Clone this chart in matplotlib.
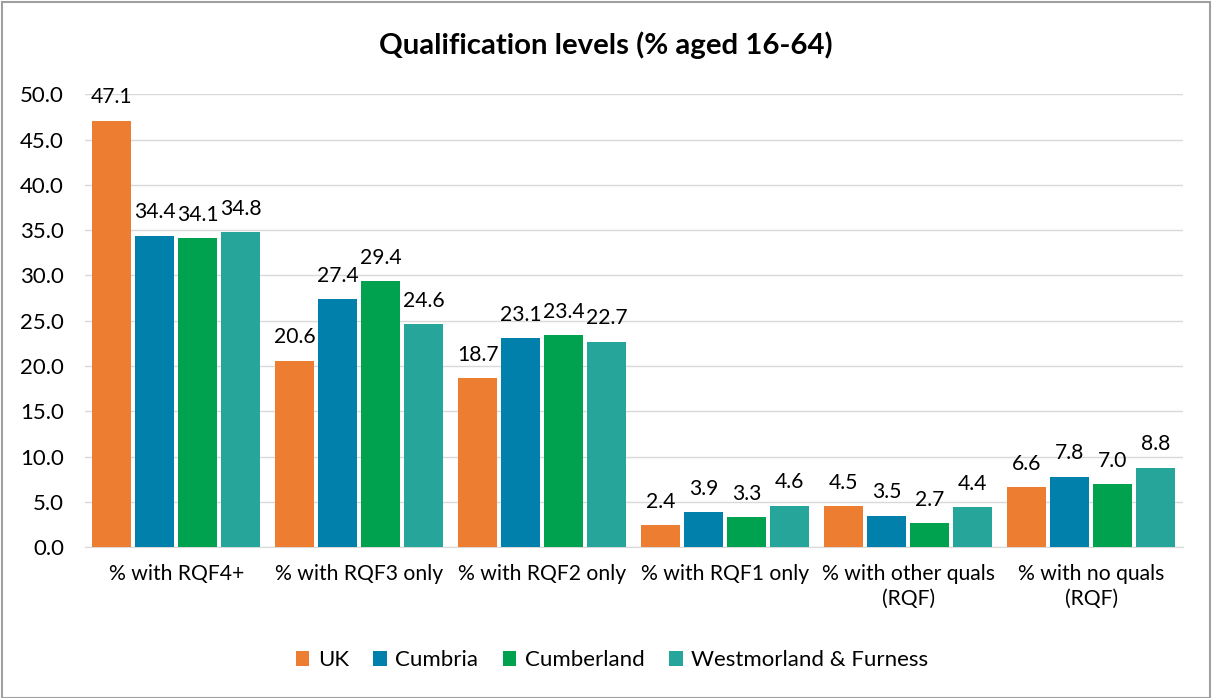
import numpy as np
import matplotlib.pyplot as plt
from matplotlib.patches import Rectangle

plt.rcParams['font.family'] = ['Lato', 'DejaVu Sans']

categories = ['% with RQF4+', '% with RQF3 only', '% with RQF2 only',
              '% with RQF1 only', '% with other quals\n(RQF)', '% with no quals\n(RQF)']
series = ['UK', 'Cumbria', 'Cumberland', 'Westmorland & Furness']
uk = [47.1, 20.6, 18.7, 2.4, 4.5, 6.6]
cumbria = [34.4, 27.4, 23.1, 3.9, 3.5, 7.8]
cumberland = [34.1, 29.4, 23.4, 3.3, 2.7, 7.0]
westmorland = [34.8, 24.6, 22.7, 4.6, 4.4, 8.8]
colors = ['#ED7D31', '#0080AB', '#00A14F', '#26A69A']

fig = plt.figure(figsize=(12.12, 6.98), dpi=100)
ax = fig.add_axes([0.070, 0.216, 0.906, 0.649])

x = np.arange(len(categories))
w = 0.213
step = 0.235
for i, (name, vals) in enumerate(zip(series, [uk, cumbria, cumberland, westmorland])):
    pos = x + (i - 1.5) * step
    bars = ax.bar(pos, vals, width=w, color=colors[i], label=name, zorder=3)
    for b, v in zip(bars, vals):
        ax.annotate(f'{v:.1f}', (b.get_x() + b.get_width() / 2, v),
                    xytext=(0, 9.5), textcoords='offset points',
                    ha='center', va='bottom', fontsize=15.2, color='#000000')

ax.set_ylim(0, 50)
ax.set_xlim(-0.5, len(categories) - 0.5)
ax.set_yticks(np.arange(0, 51, 5))
ax.set_yticklabels([f'{t:.1f}' for t in np.arange(0, 51, 5)], fontsize=16)
ax.set_xticks(x)
ax.set_xticklabels(categories, fontsize=15.2, linespacing=1.3)
ax.tick_params(axis='y', length=0, pad=15)
ax.tick_params(axis='x', length=0, pad=12)
ax.yaxis.grid(True, color='#D9D9D9', linewidth=1, zorder=0)
for s in ['top', 'right', 'left']:
    ax.spines[s].set_visible(False)
ax.spines['bottom'].set_color('#D9D9D9')

fig.text(0.5, 0.935, 'Qualification levels (% aged 16-64)', ha='center', va='center',
         fontsize=21.2, fontweight='bold')

fig.legend(loc='center', bbox_to_anchor=(0.505, 0.054), ncol=4, frameon=False,
           fontsize=16, handlelength=0.6, handleheight=0.6, handletextpad=0.4,
           columnspacing=1.1)

fig.patches.append(Rectangle((0.002, 0.0), 0.996, 0.997, transform=fig.transFigure,
                             fill=False, edgecolor='#A0A0A0', linewidth=1.5))

fig.savefig('out.png', dpi=100)
